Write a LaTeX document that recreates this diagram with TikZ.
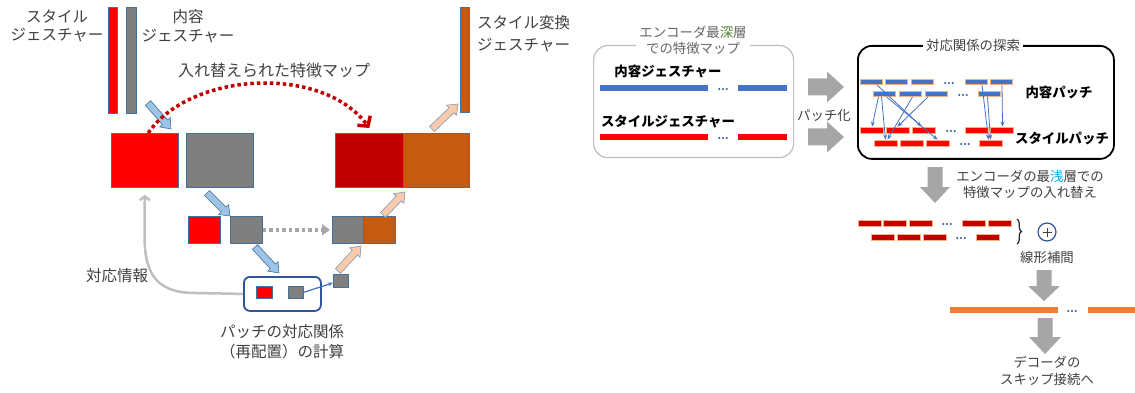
\documentclass[tikz,border=0pt]{standalone}
\usepackage{fontspec}
\setmainfont{Noto Sans CJK JP}
\usetikzlibrary{arrows.meta,calc,decorations.pathreplacing}
\definecolor{cred}{HTML}{FF0000}
\definecolor{cgray}{HTML}{7F7F7F}
\definecolor{cdred}{HTML}{C00000}
\definecolor{corange}{HTML}{C55A11}
\definecolor{edgeblue}{HTML}{41719C}
\definecolor{lblue}{HTML}{9DC3E6}
\definecolor{peach}{HTML}{F8CBAD}
\definecolor{peachedge}{HTML}{8497B0}
\definecolor{agray}{HTML}{A6A6A6}
\definecolor{lgray}{HTML}{BFBFBF}
\definecolor{tgray}{HTML}{404040}
\definecolor{bbar}{HTML}{4472C4}
\definecolor{glow}{HTML}{F4B183}
\definecolor{obar}{HTML}{ED7D31}
\definecolor{navy}{HTML}{2F5597}
\definecolor{dgreen}{HTML}{548235}
\definecolor{cyanb}{HTML}{00B0F0}
% #1 style, #2 name, #3 start, #4 end, #5 shaft half width, #6 head half width, #7 head length
\newcommand\blockarrow[7]{%
  \coordinate (#2-s) at #3; \coordinate (#2-e) at #4;
  \coordinate (#2-h) at ($(#2-e)!#7!(#2-s)$);
  \draw[#1] ($(#2-s)!#5!90:(#2-e)$) -- ($(#2-h)!#5!-90:(#2-s)$) -- ($(#2-h)!#6!-90:(#2-s)$) -- (#2-e)
    -- ($(#2-h)!#6!90:(#2-s)$) -- ($(#2-h)!#5!90:(#2-s)$) -- ($(#2-s)!#5!-90:(#2-e)$) -- cycle;}
\begin{document}
\begin{tikzpicture}[x=1pt,y=-1pt,
  box/.style={draw=edgeblue, line width=0.7pt, inner sep=0pt, anchor=north west},
  lbl/.style={text=tgray, align=center, inner sep=0pt, font=\fontsize{15.5}{18.5}\selectfont},
  rlbl/.style={text=tgray, align=center, inner sep=0pt, font=\fontsize{13.4}{16}\selectfont},
  blbl/.style={text=black, inner sep=0pt, font=\fontsize{13.4}{16}\selectfont\bfseries},
  cbar/.style={fill=bbar, draw=glow, line width=0.8pt, minimum width=22pt, minimum height=5pt, inner sep=0pt},
  sbar/.style={fill=cred, draw=glow, line width=0.8pt, minimum width=23pt, minimum height=6pt, inner sep=0pt},
  dbar/.style={fill=cdred, draw=glow, line width=0.8pt, minimum width=23pt, minimum height=6pt, inner sep=0pt},
  line/.style={inner sep=0pt, minimum height=6pt, anchor=west},
  dotsty/.style={inner sep=0pt, minimum width=12pt, minimum height=4pt,
     path picture={\fill[navy] (path picture bounding box.center) circle (1.1pt) ++(3.8pt,0) circle (1.1pt) ++(-7.6pt,0) circle (1.1pt);}},
  corr/.style={draw=bbar, line width=0.8pt, -{Stealth[length=5pt,width=4pt]}},
  lbarrow/.style={draw=edgeblue, fill=lblue, line width=0.6pt, line join=miter},
  pbarrow/.style={draw=peachedge, fill=peach, line width=0.6pt, line join=miter},
  gbarrow/.style={draw=none, fill=agray},
  rbox/.style={rounded corners=14pt, inner sep=0pt, anchor=north west}
]
\useasboundingbox (0,0) rectangle (1135,393);
\fill[white] (0,0) rectangle (1135,393);

% ---------------- left part ----------------
\node[lbl] (tstyle) at (57,26) {スタイル\\ジェスチャー};
\node[lbl] (tcont) at (188,26) {内容\\ジェスチャー};
\node[box, fill=cred, minimum width=9pt, minimum height=106pt] (sbarL) at (108,7) {};
\node[box, fill=cgray, minimum width=10pt, minimum height=106pt] (cbarL) at (126,7) {};
\node[lbl, font=\fontsize{16}{19}\selectfont] (tswap) at (274,70) {入れ替えられた特徴マップ};

\node[box, fill=cred, minimum width=67pt, minimum height=54pt] (R1) at (111,133) {};
\node[box, fill=cgray, minimum width=67pt, minimum height=54pt] (G1) at (186,133) {};
\node[box, fill=cdred, minimum width=68pt, minimum height=54pt] (D1) at (335,133) {};
\node[box, fill=corange, minimum width=66pt, minimum height=54pt] (O1) at (403,133) {};
\node[box, fill=corange, minimum width=9pt, minimum height=105pt] (obarL) at (460,7) {};
\node[lbl, align=left, anchor=west, font=\fontsize{15.5}{22}\selectfont] (tstr) at (477,34) {スタイル変換\\ジェスチャー};

\node[box, fill=cred, minimum width=32pt, minimum height=27pt] (R2) at (188,216) {};
\node[box, fill=cgray, minimum width=32pt, minimum height=27pt] (G2) at (230,216) {};
\node[box, fill=cgray, minimum width=31pt, minimum height=27pt] (G3) at (332,216) {};
\node[box, fill=corange, minimum width=32pt, minimum height=27pt] (O2) at (363,216) {};

\node[box, draw=navy, line width=1.8pt, rounded corners=6pt, minimum width=77pt, minimum height=34pt] (B) at (243,276) {};
\node[box, fill=cred, minimum width=16pt, minimum height=12pt] (r3) at (256,286) {};
\node[box, fill=cgray, minimum width=15pt, minimum height=12pt] (g3) at (288,286) {};
\node[box, fill=cgray, minimum width=15pt, minimum height=13pt] (g4) at (333,274) {};

\blockarrow{lbarrow}{a1}{(148,103)}{(171,129)}{3.5pt}{7pt}{9pt}
\blockarrow{lbarrow}{a2}{(207,193)}{(230,216)}{3.5pt}{7pt}{9pt}
\blockarrow{lbarrow}{a3}{(255,247)}{(279,273)}{3.5pt}{7pt}{9pt}
\blockarrow{pbarrow}{a4}{(338,271)}{(361,246)}{3.5pt}{7pt}{9pt}
\blockarrow{pbarrow}{a5}{(383,215)}{(405,192)}{3.5pt}{7pt}{9pt}
\blockarrow{pbarrow}{a6}{(432,129)}{(458,104)}{3.5pt}{7pt}{9pt}

\draw[draw=bbar, line width=1.2pt, -{Stealth[length=5pt,width=4pt]}] (g3.east) -- ([yshift=-2pt]g4.west);

\draw[cdred, line width=3.5pt, dash pattern=on 3.5pt off 3pt, -{Straight Barb[length=7pt,width=16pt]}]
  ($(R1.north west)!0.55!(R1.north east)$) .. controls (190,72) and (322,64) .. ([yshift=5pt]D1.north);
\draw[agray, line width=3.5pt, dash pattern=on 3.5pt off 3pt, -{Triangle[length=8pt,width=11pt]}]
  (G2.east) -- ([xshift=-2pt]G3.west);
\draw[lgray, line width=2.5pt, -{Straight Barb[length=4pt,width=10pt]}, shorten >=7pt]
  (B.west) -- (195,293) .. controls (152,293) and (144.5,268) .. (144.5,235) -- (R1.south);

\node[lbl] (tinfo) at (117,276) {対応情報};
\node[lbl, font=\fontsize{15.5}{20}\selectfont] (tcalc) at (282,342) {パッチの対応関係\\（再配置）の計算};

% ---------------- right part ----------------
\node[rbox, draw=lgray, line width=1.2pt, minimum width=200pt, minimum height=112pt] (E) at (593,45) {};
\node[rlbl, fill=white, inner sep=3pt, text=tgray!80] (tdeep) at (693,40) {エンコーダ最{\color{dgreen}深}層\\での特徴マップ};
\node[blbl] (tcg) at (668,72) {内容ジェスチャー};
\node[line, fill=bbar, minimum width=108pt] (cl1) at (600,88) {};
\node[line, fill=bbar, minimum width=49pt] (cl2) at (738,88) {};
\node[dotsty] (cld) at (723,89) {};
\node[blbl] (tsg) at (668,122) {スタイルジェスチャー};
\node[line, fill=cred, minimum width=108pt] (sl1) at (600,137) {};
\node[line, fill=cred, minimum width=49pt] (sl2) at (738,137) {};
\node[dotsty] (sld) at (723,138) {};

\blockarrow{gbarrow}{ga1}{(808,87)}{(844,87)}{8.5pt}{15.5pt}{17pt}
\blockarrow{gbarrow}{ga2}{(808,137)}{(844,137)}{8.5pt}{15.5pt}{17pt}
\node[rlbl] (tpatch) at (824,115) {パッチ化};

\node[rbox, draw=black, line width=1.8pt, minimum width=256pt, minimum height=113pt] (C) at (857,45) {};
\node[rlbl, fill=white, inner sep=3pt] (tsearch) at (973,45) {対応関係の探索};

\node[cbar] (c11) at (871,82) {};
\node[cbar] (c12) at (896,82) {};
\node[cbar] (c13) at (922,82) {};
\node[dotsty] (c1d) at (949,83) {};
\node[cbar] (c14) at (976,82) {};
\node[cbar] (c15) at (1001,82) {};
\node[cbar] (c21) at (884.5,94) {};
\node[cbar] (c22) at (910.5,94) {};
\node[cbar] (c23) at (936,94) {};
\node[dotsty] (c2d) at (963,95) {};
\node[cbar] (c24) at (989.5,94) {};

\node[sbar] (s11) at (872,130) {};
\node[sbar] (s12) at (897.5,130) {};
\node[sbar] (s13) at (923.5,130) {};
\node[dotsty] (s1d) at (951,131) {};
\node[sbar] (s14) at (977,130) {};
\node[sbar] (s15) at (1001.5,130) {};
\node[sbar] (s21) at (885.5,143) {};
\node[sbar] (s22) at (911.5,143) {};
\node[sbar] (s23) at (937.5,143) {};
\node[dotsty] (s2d) at (965,144) {};
\node[sbar] (s24) at (990.5,143) {};

\draw[corr] ([xshift=-6pt]c21.south) -- (s11.north);
\draw[corr] ([xshift=-3pt]c21.south) -- (s21.north);
\draw[corr] ([xshift=6pt]c11.south) -- ([xshift=-2pt]s13.north);
\draw[corr] ([xshift=2pt]c21.south) -- (s23.north);
\draw[corr] ([xshift=2pt]c22.south) -- ([xshift=2pt]s21.north);
\draw[corr] ([xshift=-8pt]c23.south) -- (s12.north);
\draw[corr] ([xshift=6pt]c14.south) -- ([xshift=-2pt]s24.north);
\draw[corr] ([xshift=-2pt]c24.south) -- (s24.north);
\draw[corr] ([xshift=1pt]c15.south) -- ([xshift=1pt]s15.north);

\node[blbl] (tcp) at (1059,92) {内容パッチ};
\node[blbl] (tsp) at (1062,138) {スタイルパッチ};

\blockarrow{gbarrow}{ga3}{(935,167)}{(935,203)}{7.5pt}{15pt}{16pt}
\node[rlbl] (tshallow) at (1030,184) {エンコーダの最{\color{cyanb}浅}層での\\特徴マップの入れ替え};

\node[dbar] (d11) at (869.5,223) {};
\node[dbar] (d12) at (895,223) {};
\node[dbar] (d13) at (920.5,223) {};
\node[dotsty] (d1d) at (947,224) {};
\node[dbar] (d14) at (974,223) {};
\node[dbar] (d15) at (1000,223) {};
\node[dbar] (d21) at (883,237) {};
\node[dbar] (d22) at (908.5,237) {};
\node[dbar] (d23) at (934.5,237) {};
\node[dotsty] (d2d) at (961,238) {};
\node[dbar] (d24) at (987.5,237) {};

\draw[line width=1.2pt, black!85, decorate, decoration={brace, amplitude=4.5pt}] (1017,219) -- (1017,244);
\node[circle, draw=navy, line width=1.2pt, minimum size=18pt, inner sep=0pt] (plus) at (1047,232) {};
\draw[tgray, line width=1pt] ([xshift=-4.5pt]plus.center) -- ([xshift=4.5pt]plus.center)
  ([yshift=-4.5pt]plus.center) -- ([yshift=4.5pt]plus.center);
\node[rlbl] (tinterp) at (1047,257) {線形補間};

\blockarrow{gbarrow}{ga4}{(1044,270)}{(1044,301)}{7.5pt}{16pt}{15pt}
\node[line, fill=obar, minimum width=108pt] (ol1) at (950,310) {};
\node[line, fill=obar, minimum width=47pt] (ol2) at (1088,310) {};
\node[dotsty] (old) at (1072,311) {};
\blockarrow{gbarrow}{ga5}{(1045,318)}{(1045,354)}{7.5pt}{16pt}{17pt}
\node[rlbl, font=\fontsize{13.4}{17}\selectfont] (tdec) at (1047,371) {デコーダの\\スキップ接続へ};
\end{tikzpicture}
\end{document}
